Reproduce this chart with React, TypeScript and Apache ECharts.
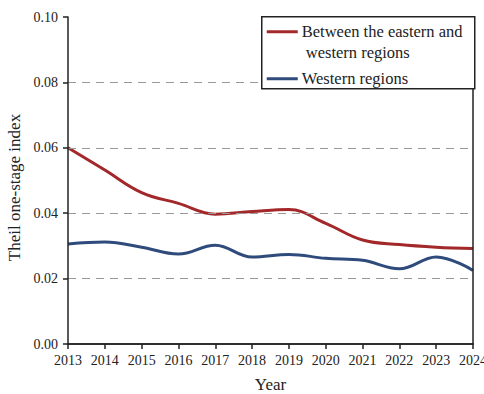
import React, { useEffect, useRef } from "react";
import * as echarts from "echarts";

const years = ["2013", "2014", "2015", "2016", "2017", "2018", "2019", "2020", "2021", "2022", "2023", "2024"];
const eastWest = [0.06, 0.0532, 0.0463, 0.043, 0.0397, 0.0405, 0.0411, 0.0369, 0.0318, 0.0304, 0.0296, 0.0292];
const western = [0.0306, 0.0312, 0.0296, 0.0275, 0.0302, 0.0266, 0.0274, 0.0262, 0.0256, 0.023, 0.0266, 0.0225];
const yTicks = [0, 0.02, 0.04, 0.06, 0.08, 0.1];

const RED = "#a3282a";
const BLUE = "#2f4b7c";
const INK = "#222";
const FONT = "Liberation Serif";

export default function App() {
  const ref = useRef<HTMLDivElement>(null);

  useEffect(() => {
    if (!ref.current) return;
    const chart = echarts.init(ref.current, undefined, { renderer: "svg" });
    const axisLine = { show: true, lineStyle: { color: INK, width: 1.5 } };
    const legendText = (text: string, x: number, y: number) => ({
      type: "text",
      x,
      y,
      z: 101,
      style: { text, font: `16.5px "${FONT}"`, fill: INK, verticalAlign: "middle" },
    });
    chart.setOption({
      animation: false,
      backgroundColor: "#fff",
      grid: { left: 68, top: 17, right: 11, bottom: 50, outerBoundsMode: "none", containLabel: false },
      xAxis: [
        {
          type: "category",
          data: years,
          boundaryGap: false,
          name: "Year",
          nameLocation: "middle",
          nameGap: 32,
          nameTextStyle: { fontFamily: FONT, fontSize: 17, color: INK },
          axisLine,
          axisTick: { show: true, alignWithLabel: true, length: 5, lineStyle: { color: INK, width: 1.5 } },
          axisLabel: { fontFamily: FONT, fontSize: 14, color: INK, margin: 9, interval: 0 },
          splitLine: { show: false },
          z: 5,
        },
        {
          type: "category",
          data: years,
          position: "top",
          boundaryGap: false,
          axisLine,
          axisTick: { show: false },
          axisLabel: { show: false },
          splitLine: { show: false },
          z: 5,
        },
      ],
      yAxis: [
        {
          type: "value",
          min: 0,
          max: 0.1,
          interval: 0.02,
          name: "Theil one-stage index",
          nameLocation: "middle",
          nameGap: 42,
          nameTextStyle: { fontFamily: FONT, fontSize: 17, color: INK, padding: [0, 14, 0, 0] },
          axisLine,
          axisTick: { show: true, length: 5, lineStyle: { color: INK, width: 1.5 } },
          axisLabel: {
            fontFamily: FONT,
            fontSize: 14,
            color: INK,
            margin: 10,
            formatter: (v: number) => (yTicks.some((t) => Math.abs(t - v) < 1e-9) ? v.toFixed(2) : ""),
          },
          splitLine: {
            show: true,
            showMinLine: false,
            showMaxLine: false,
            lineStyle: { color: "#999", type: [8, 6], width: 1.2 },
          },
          z: 5,
        },
        {
          type: "value",
          min: 0,
          max: 0.1,
          interval: 0.02,
          position: "right",
          axisLine,
          axisTick: { show: false },
          axisLabel: { show: false },
          splitLine: { show: false },
          z: 5,
        },
      ],
      legend: { show: false },
      series: [
        {
          name: "Between the eastern and western regions",
          type: "line",
          data: eastWest,
          smooth: 0.4,
          symbol: "none",
          lineStyle: { color: RED, width: 3 },
          itemStyle: { color: RED },
          z: 3,
        },
        {
          name: "Western regions",
          type: "line",
          data: western,
          smooth: 0.4,
          symbol: "none",
          lineStyle: { color: BLUE, width: 3 },
          itemStyle: { color: BLUE },
          z: 3,
        },
      ],
      graphic: [
        {
          type: "group",
          left: 261,
          top: 16,
          z: 100,
          children: [
            {
              type: "rect",
              z: 100,
              shape: { x: 0, y: 0, width: 213, height: 72 },
              style: { fill: "#fff", stroke: INK, lineWidth: 1.5 },
            },
            {
              type: "line",
              z: 101,
              shape: { x1: 5, y1: 15, x2: 36, y2: 15 },
              style: { stroke: RED, lineWidth: 3 },
            },
            legendText("Between the eastern and", 40, 15),
            legendText("western regions", 44, 36),
            {
              type: "line",
              z: 101,
              shape: { x1: 5, y1: 62, x2: 36, y2: 62 },
              style: { stroke: BLUE, lineWidth: 3 },
            },
            legendText("Western regions", 40, 62),
          ],
        },
      ],
    });
    return () => chart.dispose();
  }, []);

  return <div ref={ref} style={{ width: 484, height: 394, position: "absolute", left: 0, top: 0 }} />;
}
